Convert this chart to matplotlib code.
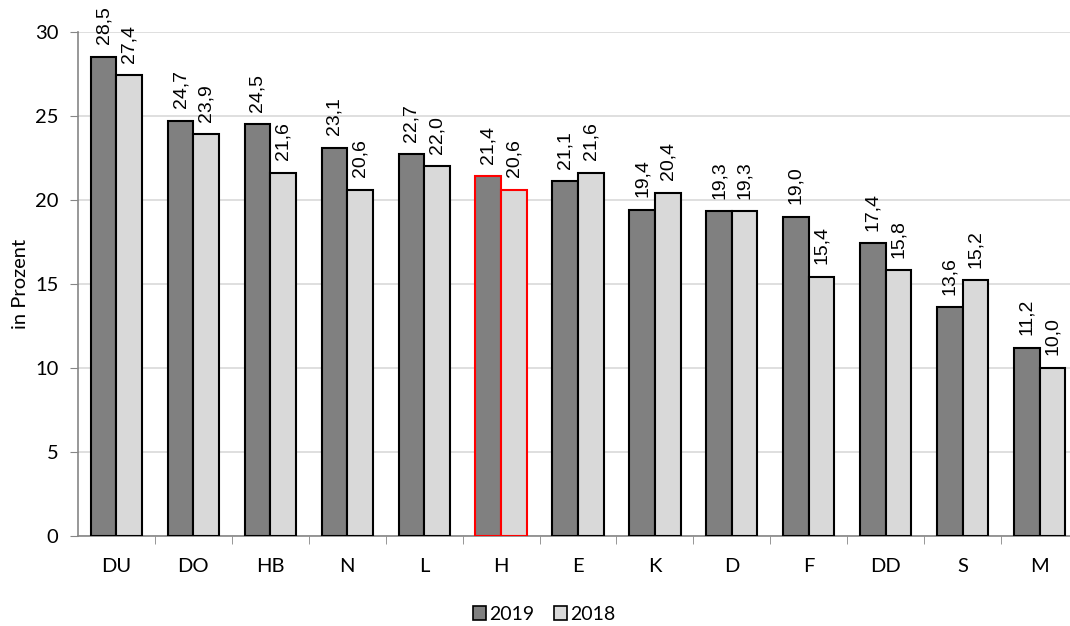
import matplotlib.pyplot as plt
import numpy as np

# Data
cities = ["DU", "DO", "HB", "N", "L", "H", "E", "K", "D", "F", "DD", "S", "M"]
v2019 = [28.5, 24.7, 24.5, 23.1, 22.7, 21.4, 21.1, 19.4, 19.3, 19.0, 17.4, 13.6, 11.2]
v2018 = [27.4, 23.9, 21.6, 20.6, 22.0, 20.6, 21.6, 20.4, 19.3, 15.4, 15.8, 15.2, 10.0]
highlight = "H"

plt.rcParams["font.family"] = ["Liberation Sans", "DejaVu Sans"]
side_font = ["Lato", "DejaVu Sans"]

fig = plt.figure(figsize=(10.7, 6.26), dpi=100)
ax = fig.add_axes([78 / 1070, 90.3 / 626, 1000 / 1070, 504 / 626])

x = np.arange(len(cities))
w = 1 / 3
edges = ["red" if c == highlight else "black" for c in cities]

b1 = ax.bar(x - w / 2, v2019, width=w, color="#808080", edgecolor=edges,
            linewidth=1.5, label="2019", zorder=3)
b2 = ax.bar(x + w / 2, v2018, width=w, color="#d9d9d9", edgecolor=edges,
            linewidth=1.5, label="2018", zorder=3)

# Value labels (German decimal comma)
for bars, vals in [(b1, v2019), (b2, v2018)]:
    for b, v in zip(bars, vals):
        ax.annotate(f"{v:.1f}".replace(".", ","),
                    (b.get_x() + b.get_width() / 2, v),
                    xytext=(0, 9), textcoords="offset points",
                    rotation=90, ha="center", va="bottom", fontsize=14)

ax.set_xlim(-0.5, len(cities) - 0.5)
ax.set_ylim(0, 30)
ax.set_yticks(range(0, 31, 5))
ax.set_yticklabels([str(t) for t in range(0, 31, 5)], family=side_font)
ax.set_xticks(x)
ax.set_xticklabels(cities, fontsize=14.5, family=side_font)
ax.set_xticks(np.arange(0.5, len(cities) - 0.5), minor=True)
ax.tick_params(axis="x", which="major", length=0, pad=16)
ax.tick_params(axis="x", which="minor", length=6, color="#868686")
ax.tick_params(axis="y", length=6, color="#868686", labelsize=14.5, pad=8)

ax.grid(axis="y", color="#d9d9d9", linewidth=1.2, zorder=0)
for s in ["top", "right"]:
    ax.spines[s].set_visible(False)
for s in ["left", "bottom"]:
    ax.spines[s].set_color("#868686")
    ax.spines[s].set_linewidth(1.2)

ax.set_ylabel("in Prozent", fontsize=14.5, family=side_font)
ax.yaxis.set_label_coords(-0.049, 0.5)

leg = fig.legend(handles=[b1, b2], labels=["2019", "2018"], loc="center",
                 bbox_to_anchor=(544 / 1070, 1 - 614 / 626), ncol=2,
                 frameon=False, handlelength=0.7, handleheight=0.7,
                 handletextpad=0.15, columnspacing=1.0,
                 prop={"family": side_font, "size": 14})
for h in leg.legend_handles:
    h.set_edgecolor("black")
    h.set_linewidth(1.2)

plt.savefig("out.png", dpi=100)
